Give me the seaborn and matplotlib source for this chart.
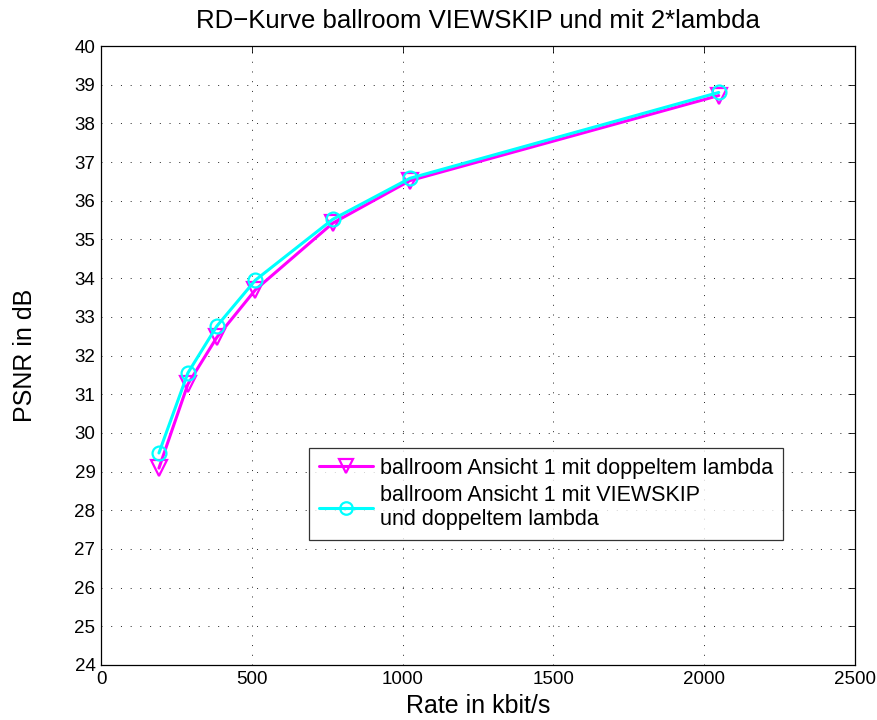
import matplotlib
matplotlib.use("Agg")
import matplotlib.pyplot as plt
import seaborn as sns
import pandas as pd
from matplotlib.lines import Line2D

rate = [192, 288, 384, 512, 768, 1024, 2048]
psnr_lambda = [29.09, 31.26, 32.47, 33.70, 35.42, 36.52, 38.72]
psnr_viewskip = [29.48, 31.55, 32.76, 33.95, 35.52, 36.58, 38.80]
label_a = "ballroom Ansicht 1 mit doppeltem lambda"
label_b = "ballroom Ansicht 1 mit VIEWSKIP\nund doppeltem lambda"
xticks = [0, 500, 1000, 1500, 2000, 2500]
yticks = list(range(24, 41))

sns.set_style("white")
plt.rcParams['font.family'] = ['Liberation Sans', 'DejaVu Sans']
plt.rcParams.update({"text.color": "black", "axes.labelcolor": "black",
                     "xtick.color": "black", "ytick.color": "black"})

df = pd.DataFrame({
    "rate": rate + rate,
    "psnr": psnr_lambda + psnr_viewskip,
    "series": [label_a] * len(rate) + [label_b] * len(rate),
})

fig = plt.figure(figsize=(8.77, 7.2), dpi=100)
ax = fig.add_axes([0.1152, 0.0764, 0.8598, 0.8597])

sns.lineplot(data=df, x="rate", y="psnr", hue="series", style="series",
             palette={label_a: "#ff00ff", label_b: "#00ffff"},
             markers={label_a: "v", label_b: "o"}, dashes=False,
             markersize=10, markerfacecolor="none", markeredgewidth=1.6,
             linewidth=2.2, ax=ax, legend=False)
sizes = [11, 10]
for line, c, ms in zip(ax.lines, ["#ff00ff", "#00ffff"], sizes):
    line.set_markeredgecolor(c)
    line.set_markerfacecolor("none")
    line.set_markersize(ms)

ax.set_xlim(0, 2500)
ax.set_ylim(24, 40)
ax.set_xticks(xticks)
ax.set_yticks(yticks)
ax.grid(True, linestyle=(0, (1, 9)), color="#222222", linewidth=0.7)
ax.tick_params(direction="in", length=5, top=True, right=True, labelsize=13.5,
               width=0.6, pad=4, colors="black")
for s in ax.spines.values():
    s.set_linewidth(0.9)
    s.set_color("black")

ax.set_xlabel("Rate in kbit/s", fontsize=18, labelpad=5, color="black")
ax.set_ylabel("PSNR in dB", fontsize=18, labelpad=27, color="black")
ax.set_title("RD\u2212Kurve ballroom VIEWSKIP und mit 2*lambda", fontsize=18.5, pad=13, color="black")

handles = [
    Line2D([], [], color="#ff00ff", marker="v", markerfacecolor="none", markeredgecolor="#ff00ff",
           markersize=10, markeredgewidth=1.6, linewidth=2.2),
    Line2D([], [], color="#00ffff", marker="o", markerfacecolor="none", markeredgecolor="#00ffff",
           markersize=9, markeredgewidth=1.6, linewidth=2.2),
]
leg = ax.legend(handles, [label_a, label_b], loc="upper left",
                bbox_to_anchor=((309 - 101) / 754, (665 - 448) / 619),
                fontsize=15.5, frameon=True, fancybox=False, edgecolor="black",
                handlelength=2.5, handletextpad=0.35, borderpad=0.45, labelspacing=0.3,
                borderaxespad=0, labelcolor="black")
leg.get_frame().set_linewidth(0.9)

fig.savefig("out.png", dpi=100, facecolor="white")
